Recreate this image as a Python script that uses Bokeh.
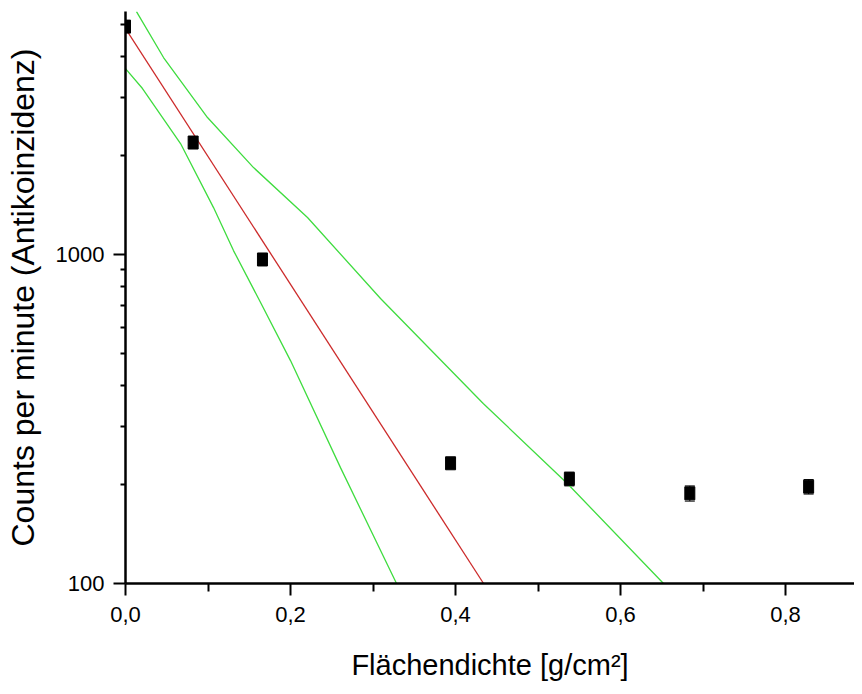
from bokeh.plotting import figure
from bokeh.models import (Range1d, FixedTicker, CustomJSTickFormatter, Whisker,
                          ColumnDataSource, TeeHead)
from bokeh.embed import file_html
from bokeh.resources import INLINE

# Measured data (Flächendichte in g/cm^2, counts per minute)
thickness = [0.0, 0.082, 0.166, 0.394, 0.538, 0.684, 0.828]
counts = [4930, 2190, 966, 232, 208, 188, 197]
count_err = [60, 40, 20, 8, 10, 10, 10]

# Exponential fit (straight in log scale)
fit_x = [0.0, 0.434]
fit_y = [4860, 100]

# Upper confidence band
upper_x = [0.0133, 0.0461, 0.0994, 0.1552, 0.2206, 0.3091, 0.4339, 0.5358, 0.6521]
upper_y = [5478, 3971, 2609, 1838, 1296, 735, 352, 201, 100]

# Lower confidence band
lower_x = [0.0, 0.0206, 0.0667, 0.1067, 0.1309, 0.1612, 0.2000, 0.2606, 0.3285]
lower_y = [3675, 3196, 2175, 1389, 1028, 735, 476, 225, 100]

x_major = [0.0, 0.2, 0.4, 0.6, 0.8]
x_minor = [0.1, 0.3, 0.5, 0.7]
y_major = [100, 1000]
y_minor = [200, 300, 400, 500, 600, 700, 800, 900, 2000, 3000, 4000, 5000]

FONT = "Liberation Sans"

p = figure(width=854, height=686, y_axis_type="log",
           x_range=Range1d(0, 0.8836), y_range=Range1d(100, 5480),
           output_backend="svg", toolbar_location=None,
           min_border_left=125, min_border_right=0,
           min_border_top=11, min_border_bottom=103)

p.outline_line_color = None
p.xgrid.visible = False
p.ygrid.visible = False
p.background_fill_color = "white"
p.border_fill_color = "white"

# lines
p.line(lower_x, lower_y, line_color="#3fdc3f", line_width=1.3)
p.line(upper_x, upper_y, line_color="#3fdc3f", line_width=1.3)
p.line(fit_x, fit_y, line_color="#cc2a2a", line_width=1.3)

# data with error bars
src = ColumnDataSource(dict(
    x=thickness, y=counts,
    lower=[c - e for c, e in zip(counts, count_err)],
    upper=[c + e for c, e in zip(counts, count_err)],
))
p.add_layout(Whisker(source=src, base="x", upper="upper", lower="lower",
                     line_color="black", line_width=1,
                     upper_head=TeeHead(size=10, line_color="black", line_width=1),
                     lower_head=TeeHead(size=10, line_color="black", line_width=1)))
p.rect(x="x", y="y", width=10, height=13, width_units="screen",
       height_units="screen", source=src, fill_color="black", line_color="black")

# axes
for ax in (p.xaxis[0], p.yaxis[0]):
    ax.axis_line_width = 2.5
    ax.axis_line_color = "black"
    ax.major_tick_line_width = 2
    ax.minor_tick_line_width = 2
    ax.major_tick_line_color = "black"
    ax.minor_tick_line_color = "black"
    ax.major_tick_in = 0
    ax.minor_tick_in = 0
    ax.major_tick_out = 12
    ax.major_label_text_font = FONT
    ax.major_label_text_font_size = "22px"
    ax.major_label_text_color = "black"
    ax.axis_label_text_font = FONT
    ax.axis_label_text_font_style = "normal"
    ax.axis_label_text_color = "black"

p.xaxis[0].ticker = FixedTicker(ticks=x_major, minor_ticks=x_minor)
p.xaxis[0].formatter = CustomJSTickFormatter(code="return tick.toFixed(1).replace('.', ',');")
p.xaxis[0].minor_tick_out = 8
p.xaxis[0].major_label_standoff = 11
p.xaxis[0].axis_label = "Flächendichte [g/cm²]"
p.xaxis[0].axis_label_text_font_size = "29px"
p.xaxis[0].axis_label_standoff = 24

p.yaxis[0].ticker = FixedTicker(ticks=y_major, minor_ticks=y_minor)
p.yaxis[0].formatter = CustomJSTickFormatter(code="return tick.toFixed(0);")
p.yaxis[0].minor_tick_out = 5
p.yaxis[0].major_label_standoff = 9
p.yaxis[0].axis_label = "Counts per minute (Antikoinzidenz)"
p.yaxis[0].axis_label_text_font_size = "32px"
p.yaxis[0].axis_label_standoff = 12

open("out.html", "w").write(file_html(p, INLINE))
